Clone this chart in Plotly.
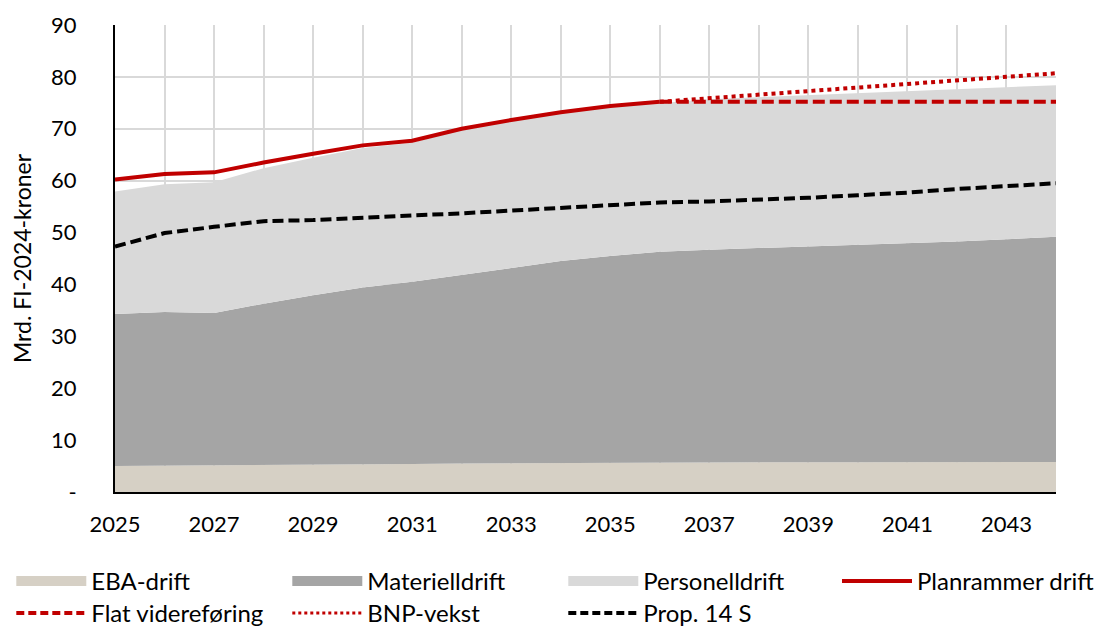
import plotly.graph_objects as go

years = list(range(2025, 2045))
eba = [5.0, 5.05, 5.1, 5.15, 5.2, 5.3, 5.4, 5.5, 5.55, 5.6, 5.65, 5.7, 5.7, 5.7, 5.75, 5.75, 5.75, 5.8, 5.8, 5.8]
materiell = [29.3, 29.65, 29.4, 31.15, 32.7, 34.1, 35.1, 36.3, 37.65, 38.9, 39.85, 40.6, 41.0, 41.3, 41.55, 41.85, 42.15, 42.5, 42.9, 43.4]
personell = [23.6, 24.6, 25.2, 26.1, 26.5, 26.9, 26.8, 28.0, 28.2, 28.5, 28.7, 28.7, 29.0, 29.1, 29.2, 29.3, 29.4, 29.3, 29.3, 29.2]

plan_years = list(range(2025, 2037))
planrammer = [60.2, 61.3, 61.6, 63.5, 65.2, 66.8, 67.7, 70.0, 71.7, 73.2, 74.4, 75.2]

proj_years = list(range(2036, 2045))
flat = [75.2, 75.2, 75.2, 75.2, 75.2, 75.2, 75.2, 75.2, 75.2]
bnp = [75.2, 75.9, 76.6, 77.2, 77.9, 78.6, 79.3, 80.0, 80.7]

prop14 = [47.3, 49.9, 51.1, 52.2, 52.4, 52.9, 53.3, 53.7, 54.2, 54.8, 55.3, 55.8, 56.0, 56.3, 56.7, 57.2, 57.7, 58.4, 58.9, 59.5]

y_ticks = [0, 10, 20, 30, 40, 50, 60, 70, 80, 90]
y_ticktext = ["-", "10", "20", "30", "40", "50", "60", "70", "80", "90"]
x_ticktext = [str(y) if (y - 2025) % 2 == 0 and y < 2044 else "" for y in years]

C_EBA = "#D6D0C5"
C_MAT = "#A5A5A5"
C_PER = "#D9D9D9"
C_RED = "#C00000"
FONT = "Lato, 'Open Sans', sans-serif"

fig = go.Figure()
for name, vals, col in [("EBA-drift", eba, C_EBA), ("Materielldrift", materiell, C_MAT), ("Personelldrift", personell, C_PER)]:
    fig.add_trace(go.Scatter(x=years, y=vals, name=name, stackgroup="one", mode="lines",
                             line=dict(width=0, color=col), fillcolor=col, showlegend=False,
                             legendgroup=name))

fig.add_trace(go.Scatter(x=plan_years, y=planrammer, mode="lines", showlegend=False,
                         line=dict(color=C_RED, width=4), legendgroup="Planrammer drift"))
fig.add_trace(go.Scatter(x=proj_years, y=bnp, mode="lines", showlegend=False,
                         line=dict(color=C_RED, width=4, dash="dot"), legendgroup="BNP-vekst"))
fig.add_trace(go.Scatter(x=proj_years, y=flat, mode="lines", showlegend=False,
                         line=dict(color=C_RED, width=4, dash="12px,5px"), legendgroup="Flat videreføring"))
fig.add_trace(go.Scatter(x=years, y=prop14, mode="lines", showlegend=False,
                         line=dict(color="black", width=4, dash="11px,5px"), legendgroup="Prop. 14 S"))

# legend entries (row 1: legend + legend3, row 2: legend2)
legend_items = [
    ("EBA-drift", dict(color=C_EBA, width=15), "legend"),
    ("Materielldrift", dict(color=C_MAT, width=15), "legend"),
    ("Personelldrift", dict(color=C_PER, width=15), "legend"),
    ("Planrammer drift", dict(color=C_RED, width=4), "legend3"),
    ("Flat videreføring", dict(color=C_RED, width=4, dash="8px,4px"), "legend2"),
    ("BNP-vekst", dict(color=C_RED, width=3, dash="3px,3px"), "legend2"),
    ("Prop. 14 S", dict(color="black", width=4, dash="8px,4px"), "legend2"),
]
for name, ln, lg in legend_items:
    fig.add_trace(go.Scatter(x=[None], y=[None], mode="lines", name=name, line=ln,
                             legendgroup=name, showlegend=True, legend=lg))

# page body has an 8px margin, so the figure is sized/offset to compensate
W, H = 1098, 618
common = dict(orientation="h", xref="container", yref="container", xanchor="left", yanchor="top",
              entrywidth=191, entrywidthmode="pixels", itemwidth=70, traceorder="normal",
              font=dict(size=24), tracegroupgap=0, itemclick=False, itemdoubleclick=False,
              bgcolor="rgba(0,0,0,0)")
fig.update_layout(
    width=W, height=H,
    margin=dict(l=107, r=50, t=17, b=134, autoexpand=False),
    plot_bgcolor="white", paper_bgcolor="white",
    font=dict(family=FONT, size=22, color="black"),
    showlegend=True,
    legend=dict(x=3.3 / W, y=1 - 551 / H, **common),
    legend2=dict(x=3.3 / W, y=1 - 583 / H, **common),
    legend3=dict(x=829 / W, y=1 - 551 / H, **common),
)
fig.update_xaxes(range=[2025, 2044], tickmode="array", tickvals=years, ticktext=x_ticktext,
                 showgrid=True, gridcolor="#D9D9D9", gridwidth=2, showline=True, linecolor="black",
                 linewidth=2, zeroline=False, ticks="", ticklabelstandoff=12, automargin=False)
fig.update_yaxes(range=[0, 90], tickmode="array", tickvals=y_ticks, ticktext=y_ticktext,
                 showgrid=True, gridcolor="#D9D9D9", gridwidth=2, showline=True, linecolor="black",
                 linewidth=2, zeroline=False, ticks="", ticklabelstandoff=32, automargin=False,
                 title=dict(text="Mrd. FI-2024-kroner", font=dict(size=23), standoff=22))

fig.write_html("out.html")
